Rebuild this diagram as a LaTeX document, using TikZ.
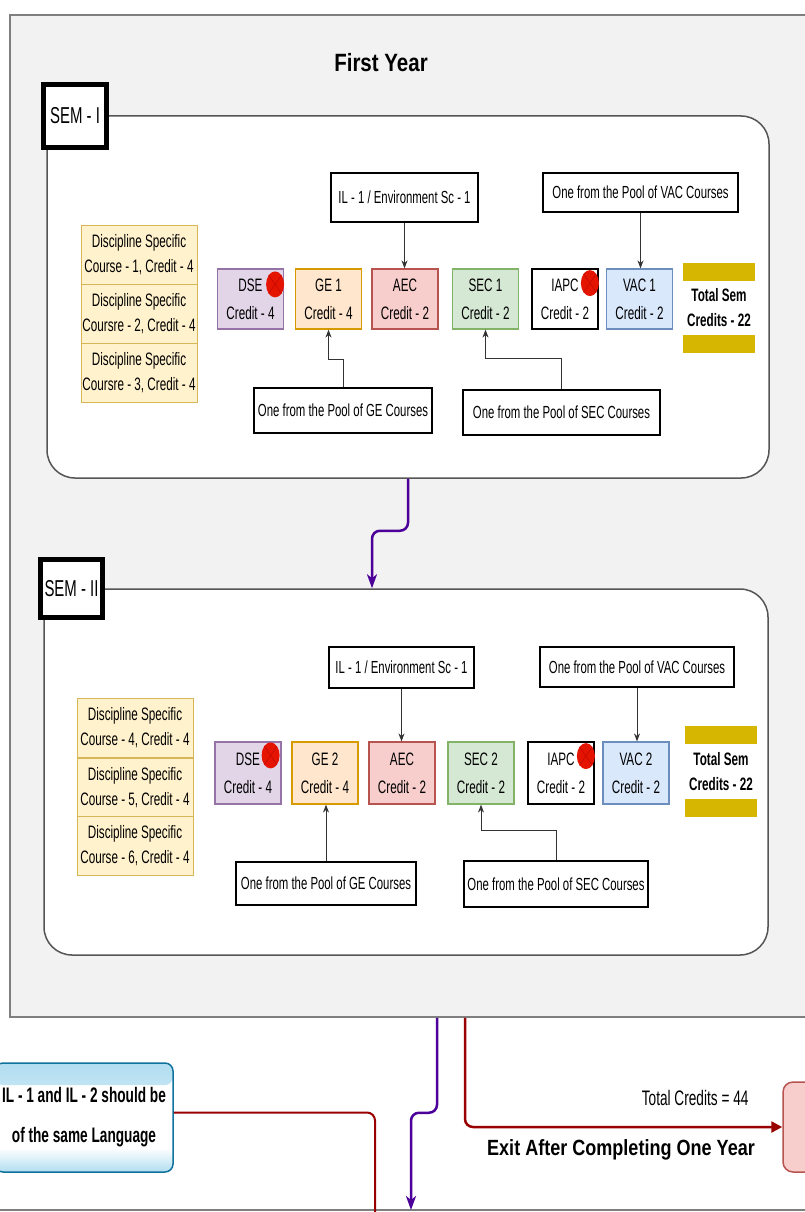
\documentclass[tikz,border=0pt]{standalone}
\usepackage{fontspec}
\setmainfont[FakeStretch=0.65]{Liberation Sans}
\newfontfamily\titlefont[FakeStretch=0.82]{Liberation Sans}
\usetikzlibrary{arrows.meta,shapes.geometric}
\definecolor{yeargray}{HTML}{F2F2F2}
\definecolor{panelgray}{HTML}{7F7F7F}
\definecolor{semgray}{HTML}{555555}
\definecolor{dscfill}{HTML}{FFF2CC}
\definecolor{dscline}{HTML}{D6B656}
\definecolor{dsefill}{HTML}{E1D5E7}
\definecolor{dseline}{HTML}{9673A6}
\definecolor{gefill}{HTML}{FFE6CC}
\definecolor{geline}{HTML}{D79B00}
\definecolor{aecfill}{HTML}{F8CECC}
\definecolor{aecline}{HTML}{B85450}
\definecolor{secfill}{HTML}{D5E8D4}
\definecolor{secline}{HTML}{82B366}
\definecolor{vacfill}{HTML}{DAE8FC}
\definecolor{vacline}{HTML}{6C8EBF}
\definecolor{markred}{HTML}{E51400}
\definecolor{markdark}{HTML}{C40A00}
\definecolor{bandyellow}{HTML}{D6B600}
\definecolor{arrowgray}{HTML}{333333}
\definecolor{yearpurple}{HTML}{4C0099}
\definecolor{exitred}{HTML}{990000}
\definecolor{noteline}{HTML}{10739E}
\definecolor{noteblue}{HTML}{B1DDF0}
\newcommand\poolfont{\fontsize{17.5}{25}\selectfont}
\newcommand\crsfont{\fontsize{18}{28}\selectfont}
\tikzset{
	yearpanel/.style={draw=panelgray, fill=yeargray, line width=1.5pt, inner sep=0pt},
	sempanel/.style={draw=semgray, fill=white, line width=1.5pt, rounded corners=28pt, inner sep=0pt},
	semlabel/.style={draw=black, fill=white, line width=5pt, inner sep=0pt, font=\fontsize{23}{28}\selectfont},
	yeartitle/.style={font=\titlefont\bfseries\fontsize{25}{28}\selectfont},
	dsc/.style={draw=dscline, fill=dscfill, line width=1pt, minimum width=116, minimum height=59, align=center, inner sep=1pt, font=\fontsize{18}{25}\selectfont},
	course/.style={line width=1.2pt, minimum width=66, minimum height=60, align=center, inner sep=1pt, font=\crsfont},
	dsebox/.style={course, draw=dseline, fill=dsefill},
	gebox/.style={course, draw=geline, fill=gefill},
	aecbox/.style={course, draw=aecline, fill=aecfill},
	secbox/.style={course, draw=secline, fill=secfill},
	iapcbox/.style={course, draw=black, fill=white, line width=1.8pt},
	vacbox/.style={course, draw=vacline, fill=vacfill},
	pool/.style={draw=black, fill=white, line width=1.4pt, inner sep=1pt, font=\poolfont},
	redmark/.style={ellipse, fill=markred, minimum width=18, minimum height=26, inner sep=0pt,
		path picture={\draw[markdark, line width=0.6pt] (path picture bounding box.north west) -- (path picture bounding box.south east) (path picture bounding box.north east) -- (path picture bounding box.south west);}},
	totalbox/.style={fill=white, minimum width=72, minimum height=90, align=center, inner sep=1pt, font=\bfseries\fontsize{18}{25}\selectfont,
		path picture={\fill[bandyellow] (path picture bounding box.north west) rectangle ([yshift=-18pt]path picture bounding box.north east);
			\fill[bandyellow] (path picture bounding box.south west) rectangle ([yshift=18pt]path picture bounding box.south east);}},
	ilnote/.style={draw=noteline, fill=white, line width=1.5pt, rounded corners=8pt, minimum width=178, minimum height=109, align=center, inner sep=1pt, font=\bfseries\fontsize{21}{40}\selectfont,
		path picture={\shade[top color=noteblue, bottom color=white] (path picture bounding box.north west) rectangle ([yshift=-22pt]path picture bounding box.north east);
			\shade[top color=white, bottom color=noteblue] ([yshift=24pt]path picture bounding box.south west) rectangle (path picture bounding box.south east);}},
	exitbox/.style={draw=aecline, fill=aecfill, line width=1.5pt, rounded corners=10pt, minimum width=74, minimum height=90},
	poolarrow/.style={draw=arrowgray, line width=1pt, -{Stealth[length=8pt,width=6pt]}},
	yeararrow/.style={draw=yearpurple, line width=2.5pt, rounded corners=8pt, -{Stealth[length=14pt,width=10pt,inset=4pt]}},
	exitarrow/.style={draw=exitred, line width=2.5pt, rounded corners=8pt, -{Triangle[length=11pt,width=11pt]}},
	noteline/.style={draw=exitred, line width=2pt, rounded corners=8pt}
}
\begin{document}
\begin{tikzpicture}[x=1pt, y=-1pt]
	\useasboundingbox (0,0) rectangle (805,1212);
	\fill[white] (0,0) rectangle (805,1212);
	\node[yearpanel, minimum width=804, minimum height=1002] (year1) at (412,516) {};
	\draw[panelgray, line width=1.5pt] (-5,1210) -- (815,1210);
	\node[yeartitle] (title) at (381,63) {First Year};

	\node[sempanel, minimum width=722, minimum height=362] (sem1) at (408,297) {};
	\node[semlabel, minimum width=63, minimum height=63] (semlab1) at (75,116) {SEM - I};
	\node[dsc] (dsc1) at (139,254.5) {Discipline Specific\\Course - 1, Credit - 4};
	\node[dsc] (dsc2) at (139,313.5) {Discipline Specific\\Coursre - 2, Credit - 4};
	\node[dsc] (dsc3) at (139,372.5) {Discipline Specific\\Coursre - 3, Credit - 4};
	\node[dsebox] (dse1) at (250.5,299) {DSE\\Credit - 4};
	\node[gebox] (ge1) at (328.5,299) {GE 1\\Credit - 4};
	\node[aecbox] (aec1) at (405,299) {AEC\\Credit - 2};
	\node[secbox] (sec1) at (485.5,299) {SEC 1\\Credit - 2};
	\node[iapcbox] (iapc1) at (565,299) {IAPC\\Credit - 2};
	\node[vacbox] (vac1) at (639.5,299) {VAC 1\\Credit - 2};
	\node[totalbox] (total1) at (719,308) {Total Sem\\Credits - 22};
	\node[redmark] (mark1) at ([xshift=-9,yshift=-16]dse1.north east) {};
	\node[redmark] (mark2) at ([xshift=-9,yshift=-15]iapc1.north east) {};
	\node[pool, minimum width=147, minimum height=49] (il1) at (404.5,197.5) {IL - 1 / Environment Sc - 1};
	\node[pool, minimum width=195, minimum height=39] (vacpool1) at (640.5,192.5) {One from the Pool of VAC Courses};
	\node[pool, minimum width=178, minimum height=45] (gepool1) at (343,410.5) {One from the Pool of GE Courses};
	\node[pool, minimum width=197, minimum height=45] (secpool1) at (561.5,412.5) {One from the Pool of SEC Courses};
	\draw[poolarrow] (il1.south) -- (il1.south |- aec1.north);
	\draw[poolarrow] (vacpool1.south) -- (vacpool1.south |- vac1.north);
	\draw[poolarrow] (gepool1.north) -- ++(0,-28) -| (ge1.south);
	\draw[poolarrow] (secpool1.north) -- ++(0,-31) -| (sec1.south);

	\node[sempanel, minimum width=724, minimum height=366] (sem2) at (406,772) {};
	\node[semlabel, minimum width=62, minimum height=58] (semlab2) at (71.5,588.5) {SEM - II};
	\node[dsc] (dsc4) at (135,728) {Discipline Specific\\Course - 4, Credit - 4};
	\node[dsc] (dsc5) at (135,787.5) {Discipline Specific\\Course - 5, Credit - 4};
	\node[dsc] (dsc6) at (135,846) {Discipline Specific\\Course - 6, Credit - 4};
	\node[dsebox, minimum height=62] (dse2) at (248,773) {DSE\\Credit - 4};
	\node[gebox, minimum height=62] (ge2) at (325,773) {GE 2\\Credit - 4};
	\node[aecbox, minimum height=62] (aec2) at (402,773) {AEC\\Credit - 2};
	\node[secbox, minimum height=62] (sec2) at (481,773) {SEC 2\\Credit - 2};
	\node[iapcbox, minimum height=62] (iapc2) at (561,773) {IAPC\\Credit - 2};
	\node[vacbox, minimum height=62] (vac2) at (636,773) {VAC 2\\Credit - 2};
	\node[totalbox, minimum height=91] (total2) at (721,771.5) {Total Sem\\Credits - 22};
	\node[redmark] (mark3) at ([xshift=-11,yshift=-14]dse2.north east) {};
	\node[redmark] (mark4) at ([xshift=-9,yshift=-15]iapc2.north east) {};
	\node[pool, minimum width=145, minimum height=41] (il2) at (401.5,667.5) {IL - 1 / Environment Sc - 1};
	\node[pool, minimum width=194, minimum height=40] (vacpool2) at (637,667) {One from the Pool of VAC Courses};
	\node[pool, minimum width=180, minimum height=43] (gepool2) at (326,883.5) {One from the Pool of GE Courses};
	\node[pool, minimum width=184, minimum height=46] (secpool2) at (556,884) {One from the Pool of SEC Courses};
	\draw[poolarrow] (il2.south) -- (il2.south |- aec2.north);
	\draw[poolarrow] (vacpool2.south) -- (vacpool2.south |- vac2.north);
	\draw[poolarrow] (gepool2.north) -- (gepool2.north |- ge2.south);
	\draw[poolarrow] (secpool2.north) -- ++(0,-30) -| (sec2.south);

	\draw[yeararrow] (sem1.south) -- ++(0,52) -| ([xshift=-34]sem2.north);

	\node[ilnote] (note) at (84,1117.5) {IL - 1 and IL - 2 should be\\of the same Language};
	\node[exitbox] (exit) at (820,1127) {};
	\node[anchor=east, font=\fontsize{21}{24}\selectfont] (totalcr) at (752,1098) {Total Credits = 44};
	\node[font=\titlefont\bfseries\fontsize{22}{26}\selectfont] (exitlabel) at (621,1150) {Exit After Completing One Year};
	\coordinate (nextyear) at (411,1210);
	\coordinate (ilend) at (375,1220);
	\draw[noteline] ([yshift=5]note.east) -| (ilend);
	\draw[yeararrow] ([xshift=25]year1.south) -- ++(0,95) -| (nextyear);
	\draw[exitarrow] ([xshift=53]year1.south) |- (exit.west);
\end{tikzpicture}
\end{document}
